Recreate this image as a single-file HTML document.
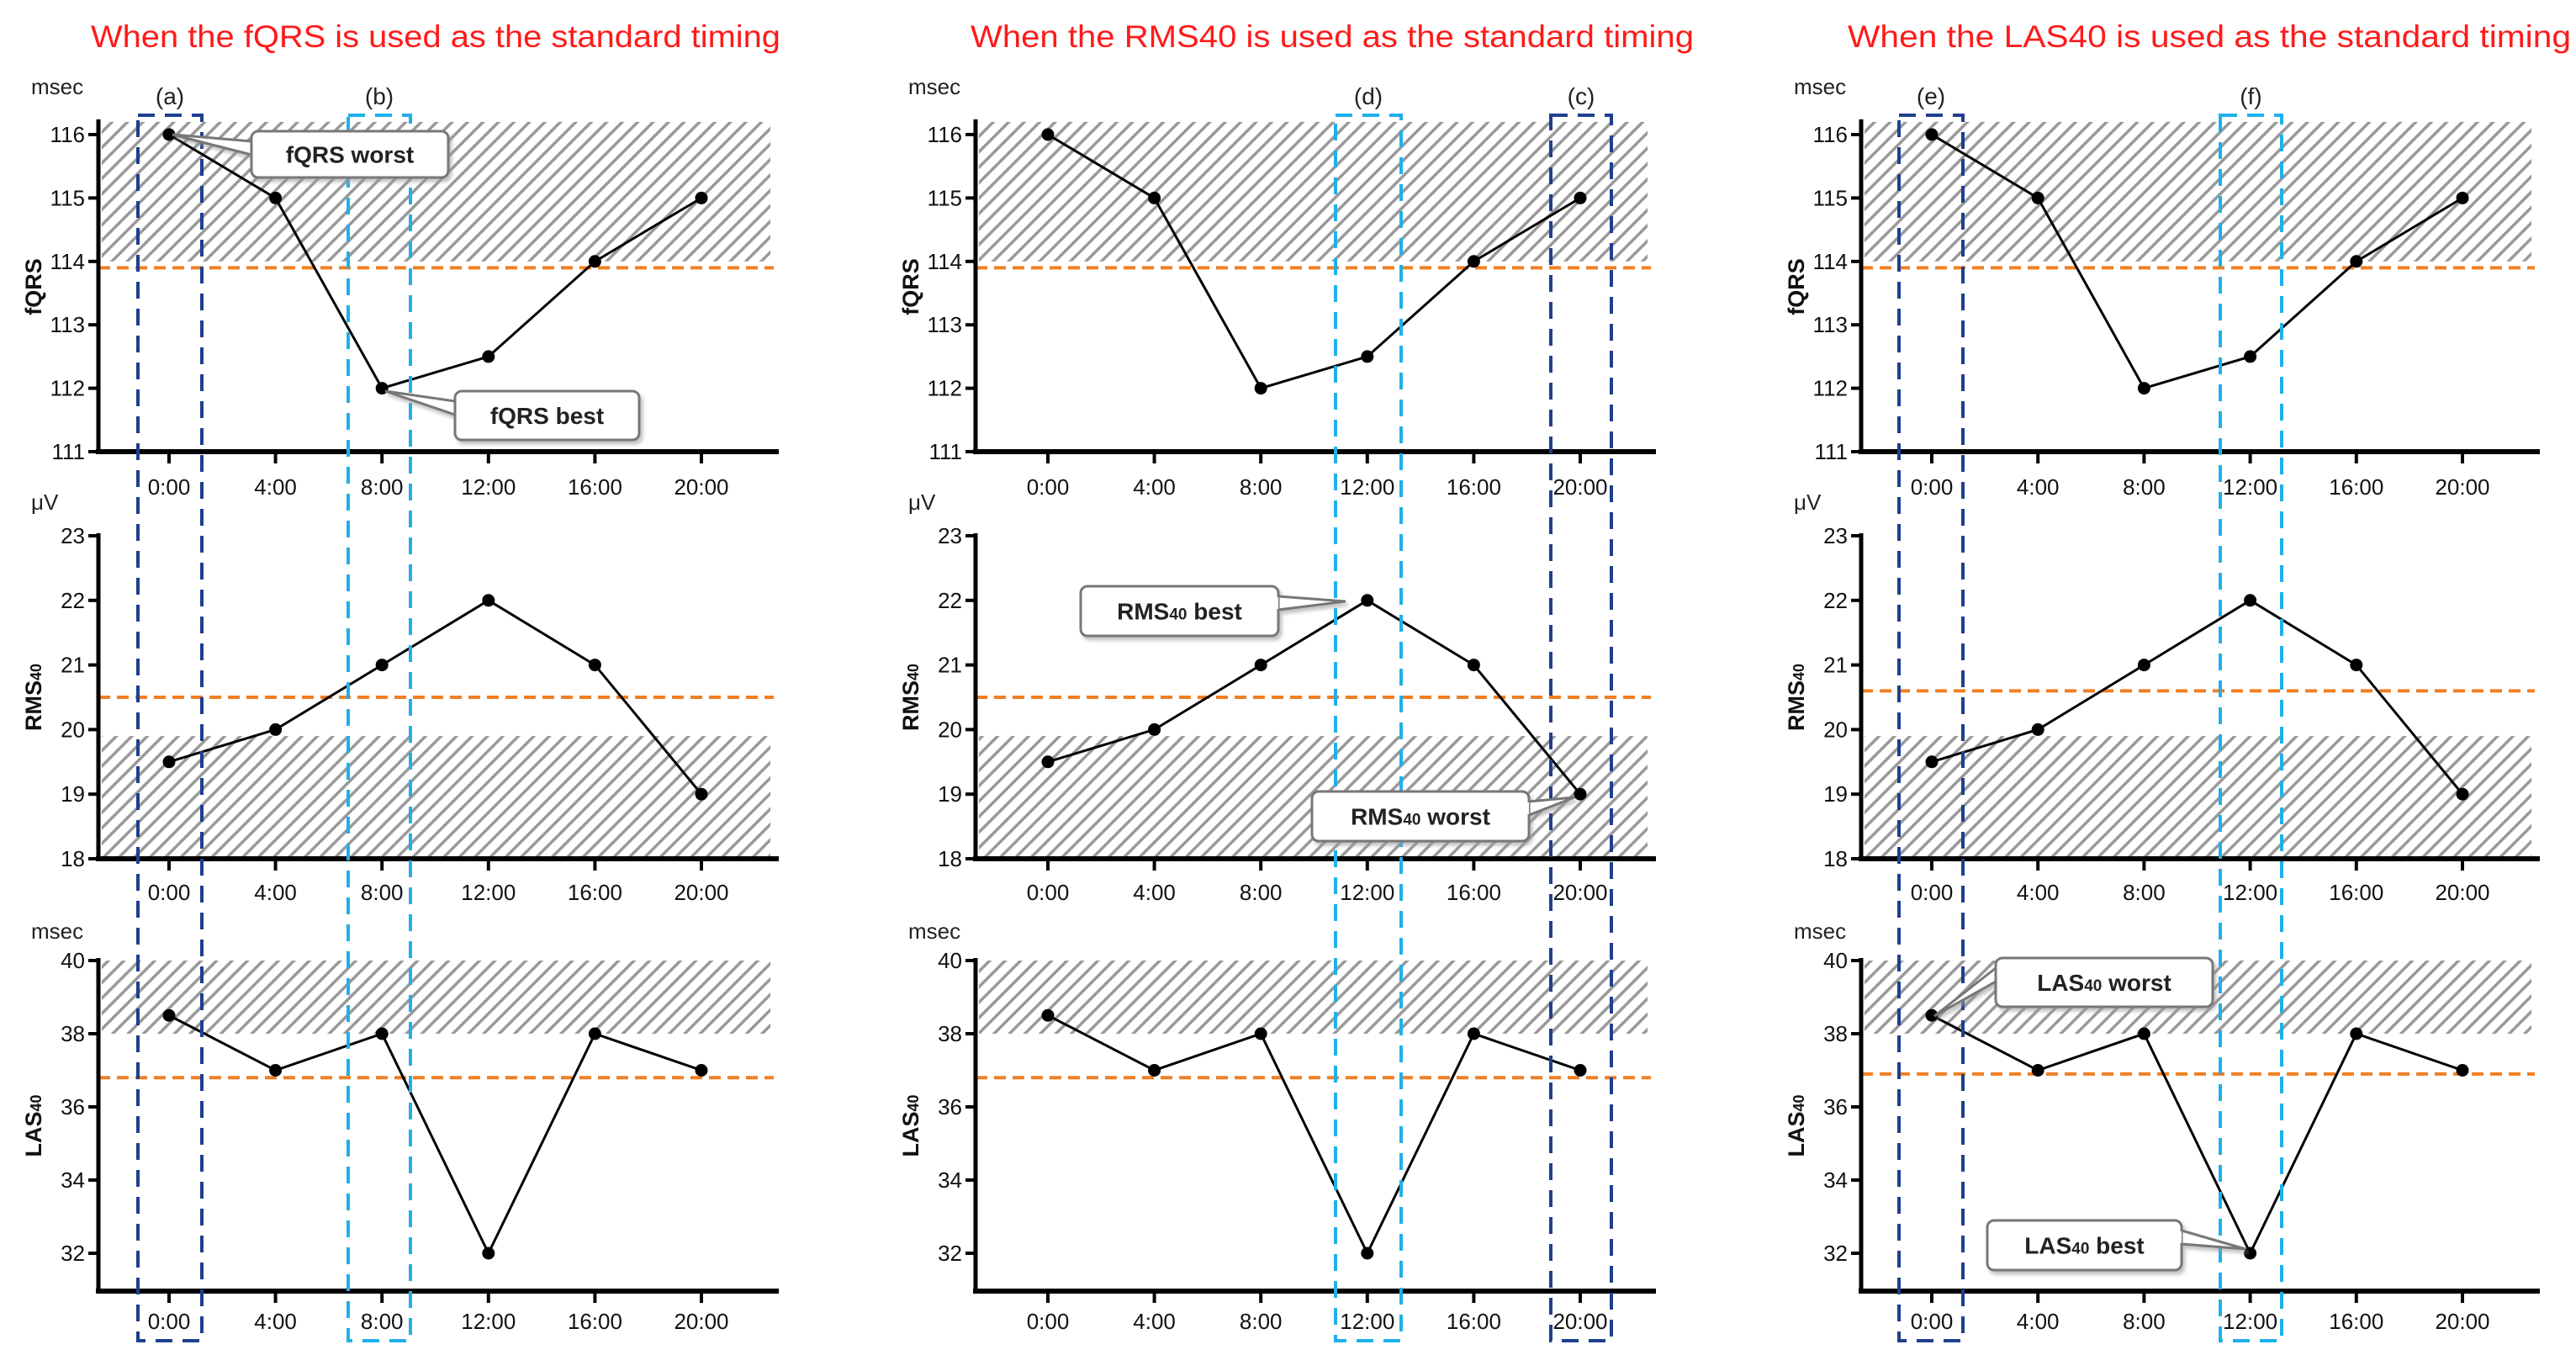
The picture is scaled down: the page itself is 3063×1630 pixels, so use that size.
<!DOCTYPE html>
<html><head><meta charset="utf-8">
<style>
html,body{margin:0;padding:0;background:#fff;}
svg{display:block;font-family:"Liberation Sans",Arial,sans-serif;}
</style></head>
<body>
<svg id="chart" width="3063" height="1630" viewBox="0 0 3063 1630" xmlns="http://www.w3.org/2000/svg">
<defs>
<pattern id="hatch" patternUnits="userSpaceOnUse" width="13" height="13" patternTransform="rotate(45)">
<rect width="13" height="13" fill="#fff"/>
<rect x="0" y="0" width="3.5" height="13" fill="#999"/>
</pattern>
<filter id="shadow" x="-10%" y="-10%" width="130%" height="140%"><feDropShadow dx="3" dy="4" stdDeviation="2" flood-color="#999" flood-opacity="0.6"/></filter>
</defs>
</svg>
<script>
const times = ["0:00","4:00","8:00","12:00","16:00","20:00"];
const fqrsValues = [116,115,112,112.5,114,115];
const rmsValues = [19.5,20,21,22,21,19];
const lasValues = [38.5,37,38,32,38,37];
const fqrsTicks = [111,112,113,114,115,116];
const rmsTicks = [18,19,20,21,22,23];
const lasTicks = [32,34,36,38,40];
const fqrsThresholds = [113.9,113.9,113.9];
const rmsThresholds = [20.5,20.5,20.6];
const lasThresholds = [36.8,36.8,36.9];
const titles = ["When the fQRS is used as the standard timing","When the RMS40 is used as the standard timing","When the LAS40 is used as the standard timing"];

const NS="http://www.w3.org/2000/svg";
const svg=document.getElementById('chart');
function mk(tag,attrs,parent){const e=document.createElementNS(NS,tag);for(const k in attrs)e.setAttribute(k,attrs[k]);(parent||svg).appendChild(e);return e;}

const cols=[{ax:117,x0:201,x20:834,xe:920,tc:518},{ax:1160,x0:1246,x20:1879,xe:1963,tc:1584},{ax:2213,x0:2297,x20:2928,xe:3014,tc:2627}];
const rows=[
 {name:'fqrs',label:'fQRS',sub:'',unit:'msec',unitY:112,vals:fqrsValues,ticks:fqrsTicks,thr:fqrsThresholds,vTop:116,yTop:160,pxu:75.4,bottom:537,axisTopV:116.2,hatch:[114,116.2],labY:588},
 {name:'rms40',label:'RMS',sub:'40',unit:'μV',unitY:606,vals:rmsValues,ticks:rmsTicks,thr:rmsThresholds,vTop:23,yTop:637,pxu:76.8,bottom:1021,axisTopV:23,hatch:[18,19.9],labY:1070},
 {name:'las40',label:'LAS',sub:'40',unit:'msec',unitY:1116,vals:lasValues,ticks:lasTicks,thr:lasThresholds,vTop:40,yTop:1142,pxu:43.5,bottom:1535,axisTopV:40,hatch:[38,40],labY:1580}
];

cols.forEach((c,ci)=>{
  const t=mk('text',{x:c.tc,y:56,'text-anchor':'middle','font-size':37,fill:'#ff1a1a',textLength:ci==0?820:860,lengthAdjust:'spacingAndGlyphs'});
  t.textContent=titles[ci];
  
  
  const xs=i=>c.x0+(c.x20-c.x0)*i/(times.length-1);
  rows.forEach((r,ri)=>{
    const ys=v=>r.yTop+(r.vTop-v)*r.pxu;
    const g=mk('g',{});
    
    
    const h=mk('rect',{x:c.ax+4,y:ys(r.hatch[1]),width:c.xe-c.ax-8,height:ys(r.hatch[0])-ys(r.hatch[1]),fill:'url(#hatch)'},g);
    
    
    const th=mk('line',{x1:c.ax,x2:c.xe,y1:ys(r.thr[ci]),y2:ys(r.thr[ci]),stroke:'#f07f22','stroke-width':4,'stroke-dasharray':'14 8'},g);
    
    
    const ya=mk('line',{x1:c.ax,x2:c.ax,y1:ys(r.axisTopV)-3,y2:r.bottom+3,stroke:'#000','stroke-width':5},g);
    
    
    const xa=mk('line',{x1:c.ax-3,x2:c.xe+6,y1:r.bottom,y2:r.bottom,stroke:'#000','stroke-width':6},g);
    
    
    r.ticks.forEach(v=>{
      mk('line',{x1:c.ax-12,x2:c.ax,y1:ys(v),y2:ys(v),stroke:'#000','stroke-width':4},g);
      const tl=mk('text',{x:c.ax-16,y:ys(v)+9,'text-anchor':'end','font-size':26,fill:'#111'},g);
      tl.textContent=v;
      
      
    });
    times.forEach((tm,i)=>{
      mk('line',{x1:xs(i),x2:xs(i),y1:r.bottom,y2:r.bottom+14,stroke:'#000','stroke-width':4},g);
      const tl=mk('text',{x:xs(i),y:r.labY,'text-anchor':'middle','font-size':26,fill:'#111'},g);
      tl.textContent=tm;
      
      
    });
    const u=mk('text',{x:c.ax-80,y:r.unitY,'font-size':26,fill:'#222'},g);
    u.textContent=r.unit;
    
    
    const midY=(ys(r.axisTopV)+r.bottom)/2;
    const yt=mk('text',{x:0,y:0,'text-anchor':'middle','font-size':27,'font-weight':'bold',fill:'#111',transform:`translate(${c.ax-68},${midY}) rotate(-90)`},g);
    yt.textContent=r.label;
    if(r.sub){const s=mk('tspan',{'font-size':18},yt);s.textContent=r.sub;}
    
    
    const pts=r.vals.map((v,i)=>xs(i)+','+ys(v)).join(' ');
    const pl=mk('polyline',{points:pts,fill:'none',stroke:'#000','stroke-width':3},g);
    
    
    r.vals.forEach((v,i)=>{
      const p=mk('circle',{cx:xs(i),cy:ys(v),r:7.5,fill:'#000'},g);
      
      
    });
  });
});

const boxes=[
 {x1:164,x2:240,c:'#1f3f8f',l:'(a)'},{x1:414,x2:488,c:'#1fb0ea',l:'(b)'},
 {x1:1588,x2:1666,c:'#1fb0ea',l:'(d)'},{x1:1844,x2:1916,c:'#1f3f8f',l:'(c)'},
 {x1:2258,x2:2334,c:'#1f3f8f',l:'(e)'},{x1:2640,x2:2713,c:'#1fb0ea',l:'(f)'}
];
boxes.forEach(b=>{
  const r=mk('rect',{x:b.x1,y:137,width:b.x2-b.x1,height:1594-137,fill:'none',stroke:b.c,'stroke-width':4,'stroke-dasharray':'20 12'});
  
  
  const t=mk('text',{x:(b.x1+b.x2)/2,y:124,'text-anchor':'middle','font-size':28,fill:'#222'});
  t.textContent=b.l;
  
  
});

const callouts=[
 {x:299,y:156,w:234,h:55,t:'fQRS worst',px:205,py:160,side:'l'},
 {x:541,y:465,w:219,h:58,t:'fQRS best',px:458,py:465,side:'l'},
 {x:1285,y:697,w:235,h:59,t:'RMS40 best',px:1600,py:715,side:'r'},
 {x:1560,y:941,w:258,h:59,t:'RMS40 worst',px:1872,py:948,side:'r'},
 {x:2373,y:1139,w:258,h:58,t:'LAS40 worst',px:2300,py:1208,side:'l'},
 {x:2363,y:1451,w:231,h:59,t:'LAS40 best',px:2670,py:1485,side:'r'}
];
callouts.forEach(c=>{
  const g=mk('g',{filter:'url(#shadow)'});
  
  
  const ex=c.side=='l'?c.x:c.x+c.w;
  mk('polygon',{points:`${ex},${c.y+12} ${c.px},${c.py} ${ex},${c.y+28}`,fill:'#fff',stroke:'#777','stroke-width':3},g);
  mk('rect',{x:c.x,y:c.y,width:c.w,height:c.h,rx:8,fill:'#fff',stroke:'#777','stroke-width':3},g);
  mk('rect',{x:ex-(c.side=='l'?-2:4),y:c.y+13,width:4,height:14,fill:'#fff'},g);
  const m=c.t.match(/^(RMS|LAS)40 (.*)$/);
  const tx=mk('text',{x:c.x+c.w/2,y:c.y+c.h/2+10,'text-anchor':'middle','font-size':28,'font-weight':'bold',fill:'#222'},g);
  if(m){
    const a=mk('tspan',{},tx);a.textContent=m[1];
    const b=mk('tspan',{'font-size':19},tx);b.textContent='40';
    const d=mk('tspan',{},tx);d.textContent=' '+m[2];
  } else tx.textContent=c.t;
});
</script>
</body></html>
